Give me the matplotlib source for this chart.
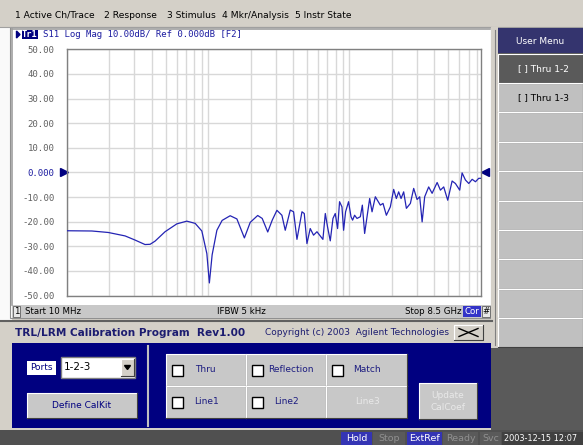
import matplotlib
matplotlib.use('Agg')
import matplotlib.pyplot as plt
from matplotlib.patches import Rectangle

# S11 trace (frequency in MHz, magnitude in dB)
freq_mhz = [10, 15, 19.6, 25.8, 30.4, 35.7, 38.8, 42.1, 49.5, 60.0,
            70.6, 80.9, 90.2, 97.9, 102, 106.7, 115.3, 125.6, 143.2, 159.8,
            180.6, 198.6, 224.4, 241.5, 264.3, 284.4, 307, 333, 351.7, 381.7,
            402.8, 425.7, 462, 479.6, 501, 528.6, 558, 590, 650, 676,
            701, 733, 766, 795, 826, 853, 887, 911, 941, 988,
            1028, 1055, 1090, 1134, 1197, 1237, 1284, 1394, 1449, 1529,
            1659, 1733, 1830, 1953, 2062, 2154, 2237, 2327, 2427, 2537,
            2708, 2858, 3020, 3153, 3280, 3420, 3650, 3860, 4190, 4420,
            4665, 4980, 5350, 5645, 6055, 6295, 6650, 7020, 7420, 7830,
            8260, 8500]
s11_db = [-23.7, -23.8, -24.4, -25.8, -27.5, -29.3, -29.2, -27.9, -24.1, -20.9,
          -19.8, -20.7, -23.8, -33.0, -44.9, -33.5, -23.5, -19.5, -17.6, -18.9,
          -26.6, -20.3, -17.5, -18.7, -24.2, -19.4, -15.4, -17.4, -23.5, -15.3,
          -16.0, -27.2, -16.0, -16.7, -28.9, -22.8, -25.5, -24.1, -27.2, -16.7,
          -22.1, -27.8, -18.7, -16.7, -22.8, -11.9, -14.0, -23.5, -16.0, -11.9,
          -18.0, -19.4, -17.4, -18.7, -18.0, -13.3, -24.8, -10.6, -16.0, -9.9,
          -13.3, -12.6, -17.4, -14.0, -6.9, -10.6, -7.9, -10.6, -7.9, -14.6,
          -12.6, -6.5, -11.0, -9.9, -20.1, -9.9, -5.9, -8.5, -4.1, -7.2,
          -5.9, -11.3, -3.5, -4.5, -7.2, -0.2, -3.1, -4.5, -2.8, -3.8,
          -2.4, -2.4]

ref_db = 0.0
start_mhz = 10
stop_mhz = 8500
y_ticks = [50, 40, 30, 20, 10, 0, -10, -20, -30, -40, -50]
y_labels = ['50.00', '40.00', '30.00', '20.00', '10.00', '0.000',
            '-10.00', '-20.00', '-30.00', '-40.00', '-50.00']
grid_mhz = [m * d for d in (10, 100, 1000) for m in range(1, 10) if m * d <= stop_mhz]

menu_items = ['1 Active Ch/Trace', '2 Response', '3 Stimulus', '4 Mkr/Analysis', '5 Instr State']
menu_x = [15, 104, 167, 222, 295]
user_menu = ['[ ] Thru 1-2', '[ ] Thru 1-3', '', '', '', '', '', '', '', '']

NAVY = '#000080'
TRACE = '#2424b4'
UI = 'DejaVu Sans'

fig = plt.figure(figsize=(5.83, 4.45), dpi=100)
fig.patch.set_facecolor('#d4d0c8')

# full-figure layer in pixel coordinates for the instrument UI
bg = fig.add_axes([0, 0, 1, 1])
bg.set_xlim(0, 583)
bg.set_ylim(445, 0)
bg.axis('off')


def rect(x0, y0, x1, y1, fc, ec='none', lw=0.0, z=1):
    bg.add_patch(Rectangle((x0, y0), x1 - x0, y1 - y0, facecolor=fc,
                           edgecolor=ec, linewidth=lw, zorder=z))


def raised(x0, y0, x1, y1, fc='#c8c8c8', z=2):
    rect(x0, y0, x1, y1, fc, z=z)
    bg.plot([x0, x0, x1], [y1, y0, y0], color='white', lw=0.8, zorder=z + 0.1)
    bg.plot([x0, x1, x1], [y1, y1, y0], color='#404040', lw=0.8, zorder=z + 0.1)


def label(x, y, s, size=6.5, color='black', ha='left', **kw):
    bg.text(x, y, s, fontsize=size, color=color, ha=ha, va='center',
            family=UI, zorder=6, **kw)


def checkbox(x, y):
    rect(x, y, x + 11, y + 11, 'white', ec='black', lw=1.0, z=4)


# menu bar
rect(0, 0, 583, 27, '#d4d0c8')
bg.plot([0, 583], [26.5, 26.5], color='#a0a0a0', lw=0.8, zorder=2)
for name, x in zip(menu_items, menu_x):
    label(x, 15.5, name, size=6.6)

# chart window
rect(0, 27, 12, 320, '#fafafa')
rect(10, 27, 491, 318, 'white', ec='#909090', lw=0.8)
bg.plot([12, 12], [28, 305], color='#a0a0a0', lw=1.2, zorder=3)
bg.plot([12, 490], [28.5, 28.5], color='#a0a0a0', lw=1.2, zorder=3)
bg.fill([16.5, 16.5, 20], [31, 38, 34.5], color=NAVY, zorder=4)
rect(21.5, 29.5, 37.5, 39, NAVY, z=4)
bg.text(29.5, 34.5, 'Tr1', fontsize=6.3, color='white', ha='center', va='center',
        family='DejaVu Sans Mono', weight='bold', zorder=6)
bg.text(43, 34.5, 'S11 Log Mag 10.00dB/ Ref 0.000dB [F2]', fontsize=6.5,
        color='#1c1ca0', ha='left', va='center', family='DejaVu Sans Mono', zorder=6)

# channel status row
rect(12, 305, 491, 318, '#c8c8c8', z=2)
rect(13, 306, 20, 317, '#e8e8e8', ec='#606060', lw=0.6, z=3)
label(16.5, 311.5, '1', size=6.2, ha='center')
label(25, 311.5, 'Start 10 MHz', size=6.2)
label(217, 311.5, 'IFBW 5 kHz', size=6.2)
label(405, 311.5, 'Stop 8.5 GHz', size=6.2)
rect(463, 306, 481, 317, '#3434c8', z=3)
label(472, 311.5, 'Cor', size=6.2, color='white', ha='center')
rect(482, 306, 490, 317, '#e8e8e8', ec='#606060', lw=0.6, z=3)
label(486, 311.5, '#', size=6.2, ha='center')
bg.plot([0, 492], [320.5, 320.5], color='#606060', lw=1.5, zorder=3)

# calibration dialog
rect(0, 322, 492, 430, '#d4d0c8')
label(15, 332.5, 'TRL/LRM Calibration Program  Rev1.00', size=7.6, color='#1c1c70',
      weight='bold')
label(265, 332.5, 'Copyright (c) 2003  Agilent Technologies', size=6.5, color='#1c1c70')
raised(454, 325, 483, 340, fc='#d4d0c8')
bg.plot([459, 478], [328.5, 336.5], color='black', lw=1.0, zorder=5)
bg.plot([459, 478], [336.5, 328.5], color='black', lw=1.0, zorder=5)
rect(12, 343, 491, 428, NAVY)

rect(27, 361, 56, 375, 'white', z=3)
label(41.5, 368, 'Ports', size=6.5, color=NAVY, ha='center')
rect(61, 357, 135, 378, 'white', ec='#808080', lw=1.0, z=3)
label(64, 367.5, '1-2-3', size=7.5)
raised(121, 359, 134, 376, fc='#d4d0c8', z=4)
bg.fill([124.5, 130.5, 127.5], [365.5, 365.5, 369.5], color='black', zorder=6)
raised(27, 393, 137, 418, fc='#c8c8c8')
label(82, 405.5, 'Define CalKit', size=6.5, color=NAVY, ha='center')
bg.plot([148, 148], [346, 426], color='#c0c0c0', lw=1.5, zorder=3)

std_buttons = [
    (166, 354, 246, 386, 'Thru', 195, True),
    (246, 354, 326, 386, 'Reflection', 268, True),
    (326, 354, 407, 386, 'Match', 353, True),
    (166, 386, 246, 418, 'Line1', 194, True),
    (246, 386, 326, 418, 'Line2', 274, True),
    (326, 386, 407, 418, 'Line3', 355, False),
]
for x0, y0, x1, y1, name, tx, enabled in std_buttons:
    raised(x0, y0, x1, y1)
    yc = (y0 + y1) / 2
    if enabled:
        checkbox(x0 + 6, yc - 5.5)
        label(tx, yc, name, size=6.5, color='#1c1c80')
    else:
        label(tx, yc, name, size=6.5, color='#e8e8e8')
raised(419, 383, 477, 419)
label(448, 395, 'Update', size=6.5, color='#e8e8e8', ha='center')
label(448, 407, 'CalCoef', size=6.5, color='#e8e8e8', ha='center')

# soft key panel
rect(491, 27, 583, 430, '#5a5a5a')
rect(491, 27, 498, 348, '#d4d0c8', z=2)
bg.plot([494.5, 494.5], [30, 345], color='#808080', lw=0.8, zorder=3)
rect(498, 28, 583, 53, '#34346e', z=2)
label(540, 41, 'User Menu', size=6.5, color='white', ha='center')
for i, key in enumerate(user_menu):
    y0 = 53.5 + i * 29.4
    fc = '#5a5a5a' if i == 0 else '#c0c0c0'
    raised(498, y0, 583, y0 + 29.4, fc=fc)
    if key:
        label(543, y0 + 14.7, key, size=6.5, color='white' if i == 0 else 'black',
              ha='center')

# status bar
rect(0, 430, 583, 445, '#505050')
status = [(341, 372, 'Hold', '#3434b4', 'white'),
          (373, 405, 'Stop', '#5a5a5a', '#909090'),
          (407, 442, 'ExtRef', '#3434b4', 'white'),
          (443, 478, 'Ready', '#5a5a5a', '#909090'),
          (480, 501, 'Svc', '#5a5a5a', '#909090')]
for x0, x1, name, fc, tc in status:
    rect(x0, 432, x1, 445, fc, z=2)
    label((x0 + x1) / 2, 438.5, name, size=6.8, color=tc, ha='center')
rect(502, 432, 583, 445, '#404040', z=2)
label(504, 438.5, '2003-12-15 12:07', size=5.9, color='white')

# measurement grid
ax = fig.add_axes([67 / 583, 1 - 295.5 / 445, 413.5 / 583, 246.2 / 445])
ax.set_zorder(3)
ax.set_facecolor('white')
ax.set_xscale('log')
ax.set_xlim(start_mhz, stop_mhz)
ax.set_ylim(-50, 50)
ax.set_xticks(grid_mhz)
ax.set_xticks([], minor=True)
ax.set_xticklabels([])
ax.set_yticks(y_ticks)
ax.set_yticklabels(y_labels, family='DejaVu Sans Mono', fontsize=6.5, color='#606060')
for t in ax.get_yticklabels():
    if t.get_text() == '0.000':
        t.set_color('#1c1ca0')
ax.tick_params(length=0, pad=9)
ax.grid(True, color='#d8d8d8', linewidth=1.0)
for s in ax.spines.values():
    s.set_color('#808080')
    s.set_linewidth(1.0)

ax.plot(freq_mhz, s11_db, color=TRACE, linewidth=0.9, zorder=3)
ax.plot([-0.008], [ref_db], marker='>', ms=6, color=NAVY, linestyle='none',
        transform=ax.get_yaxis_transform(), clip_on=False)
ax.plot([1.01], [ref_db], marker='<', ms=6, color=NAVY, linestyle='none',
        transform=ax.get_yaxis_transform(), clip_on=False)

fig.savefig('out.png', dpi=100, facecolor=fig.get_facecolor())
